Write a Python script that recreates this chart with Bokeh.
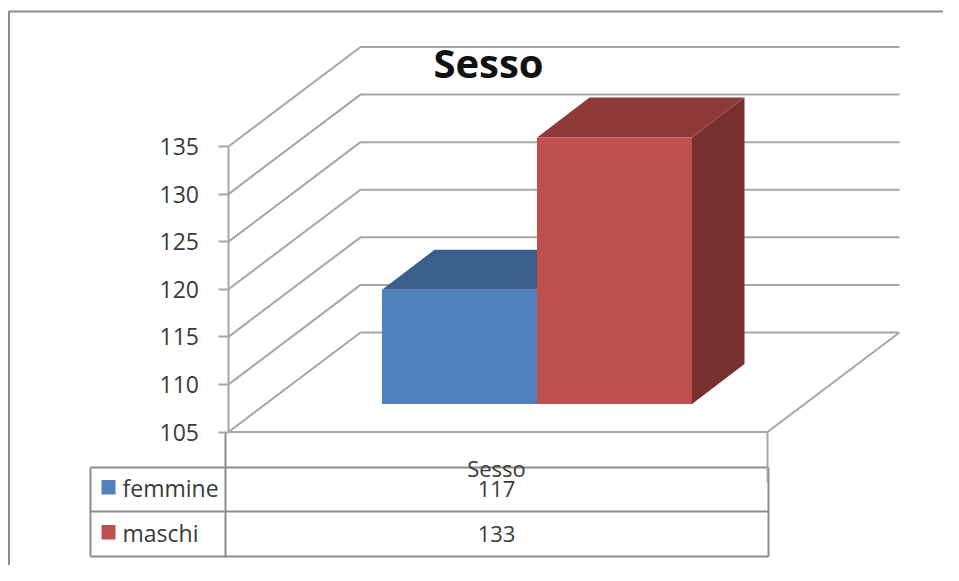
from bokeh.plotting import figure
from bokeh.embed import file_html
from bokeh.resources import INLINE
from bokeh.core.properties import value
from bokeh.models import Range1d, FixedTicker

# --- data ---
title = "Sesso"
category = "Sesso"
series_names = ["femmine", "maschi"]
series_values = [117, 133]
ticks = [105, 110, 115, 120, 125, 130, 135]

front_colors = ["#4F81BD", "#C0504D"]
top_colors = ["#3A5F8B", "#8F3A38"]
side_colors = ["#345579", "#78302E"]

# --- layout: page pixels to data ---
W, H = 943, 565
ORIGIN = 0
Y_BASE_PX = 431.5
PX_PER_UNIT = (431.5 - 146.0) / 30.0
GRID = "#A6A6A6"
FRAME = "#8C8C8C"
TXT = "#3A3A3A"
FONT = "Open Sans"


def py(px):
    return ticks[0] + (Y_BASE_PX - px) / PX_PER_UNIT


p = figure(width=W, height=H, output_backend="svg", toolbar_location=None,
           x_range=Range1d(ORIGIN, ORIGIN + W), y_range=Range1d(py(ORIGIN + H), py(ORIGIN)),
           x_axis_location=None, y_axis_location="left", min_border=0,
           outline_line_color=None, background_fill_color="white", border_fill_color="white")
p.grid.visible = False

ax = p.yaxis[0]
ax.fixed_location = 227.5
ax.bounds = (ticks[0], ticks[-1])
ax.ticker = FixedTicker(ticks=ticks)
ax.axis_line_color = GRID
ax.axis_line_width = 2
ax.major_tick_line_color = GRID
ax.major_tick_line_width = 2
ax.major_tick_in = 0
ax.major_tick_out = 10
ax.minor_tick_line_color = None
ax.major_label_standoff = 19
ax.major_label_text_font = FONT
ax.major_label_text_font_size = "23px"
ax.major_label_text_color = TXT

# outer frame of the picture (left and top only are visible)
p.line([8.5, 8.5, ORIGIN + W], [py(ORIGIN + H), py(11), py(11)], line_color=FRAME, line_width=2)

# 3D projection of the walls
FX0, FX1 = 228, 767
DX, DY = 132, 99.5 / PX_PER_UNIT
for t in ticks:
    if t == ticks[0]:
        p.line([FX0, FX0 + DX], [t, t + DY], line_color=GRID, line_width=2)
        p.line([FX1, FX1 + DX], [t, t + DY], line_color=GRID, line_width=2)
        p.line([FX0 + DX, FX1 + DX - 1], [t + DY, t + DY], line_color=GRID, line_width=2)
    else:
        p.line([FX0, FX0 + DX, FX1 + DX], [t, t + DY, t + DY], line_color=GRID, line_width=2)
p.line([FX0, FX1], [ticks[0], ticks[0]], line_color=GRID, line_width=2)

# bars
BAR_L, BAR_W = 381.5, 155
BAR_BASE = py(403.5)
BDX, BDY = 52.5, 40 / PX_PER_UNIT
for i, v in enumerate(series_values):
    top = BAR_BASE + (v - ticks[0])
    x0, x1 = BAR_L + i * BAR_W, BAR_L + (i + 1) * BAR_W
    p.patch([x1, x1 + BDX, x1 + BDX, x1], [BAR_BASE, BAR_BASE + BDY, top + BDY, top],
            fill_color=side_colors[i], line_color=None)
    p.patch([x0, x1, x1 + BDX, x0 + BDX], [top, top, top + BDY, top + BDY],
            fill_color=top_colors[i], line_color=None)
    p.quad(left=x0, right=x1, bottom=BAR_BASE, top=top, fill_color=front_colors[i], line_color=None)

# data table
T_L, T_C, T_R = 90, 225, 768
T_Y = [467, 511, 556]
for y in T_Y:
    p.line([T_L, T_R], [py(y), py(y)], line_color=FRAME, line_width=2)
p.line([T_L, T_L], [py(T_Y[0]), py(T_Y[-1])], line_color=FRAME, line_width=2)
p.line([T_C, T_C], [ticks[0], py(T_Y[-1])], line_color=FRAME, line_width=2)
p.line([T_R, T_R], [py(T_Y[0]), py(T_Y[-1])], line_color=FRAME, line_width=2)
p.line([FX1, FX1], [ticks[0], py(482)], line_color=GRID, line_width=2)

ROW_Y = [487.0, 532.0]
for i, (n, v) in enumerate(zip(series_names, series_values)):
    y = ROW_Y[i]
    p.quad(left=101, right=115, top=py(y - 7.5), bottom=py(y + 7), fill_color=front_colors[i], line_color=None)
    p.text(x=[122], y=[py(y)], text=[n], text_font=value(FONT), text_font_size="23px",
           text_color=TXT, text_baseline="middle", text_align="left")
    p.text(x=[496], y=[py(y + 1)], text=[str(v)], text_font=value(FONT), text_font_size="22px",
           text_color=TXT, text_baseline="middle", text_align="center")

p.text(x=[496], y=[py(467)], text=[category], text_font=value(FONT), text_font_size="22px",
       text_color=TXT, text_baseline="middle", text_align="center")
p.text(x=[488], y=[py(62)], text=[title], text_font=value(FONT), text_font_style="bold",
       text_font_size="40px", text_color="#111111", text_baseline="middle", text_align="center")

open("out.html", "w").write(file_html(p, INLINE))
